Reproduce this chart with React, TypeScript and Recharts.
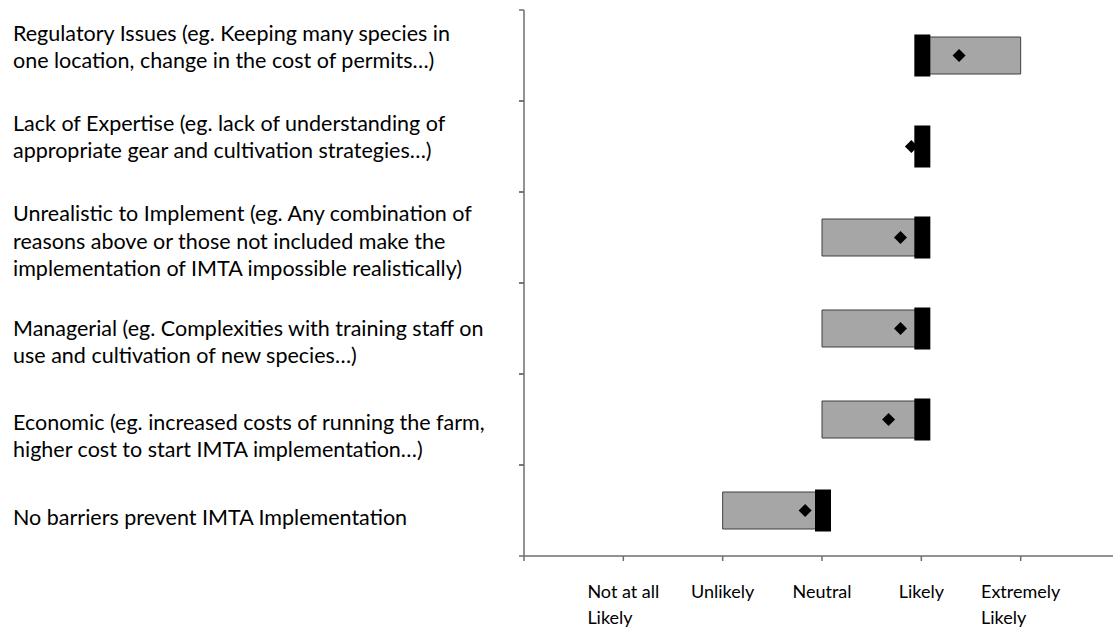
import React from 'react'
import { ComposedChart, Bar, Scatter, XAxis, YAxis } from 'recharts'

// barriers, top to bottom (line breaks as in the original labels)
const categories = [
  'Regulatory Issues (eg. Keeping many species in\none location, change in the cost of permits…)',
  'Lack of Expertise (eg. lack of understanding of\nappropriate gear and cultivation strategies…)',
  'Unrealistic to Implement (eg. Any combination of\nreasons above or those not included make the\nimplementation of IMTA impossible realistically)',
  'Managerial (eg. Complexities with training staff on\nuse and cultivation of new species…)',
  'Economic (eg. increased costs of running the farm,\nhigher cost to start IMTA implementation…)',
  'No barriers prevent IMTA Implementation',
]
const q1 = [4, 4, 3, 3, 3, 2]
const q3 = [5, 4, 4, 4, 4, 3]
const medians = [4, 4, 4, 4, 4, 3]
const means = [4.38, 3.9, 3.79, 3.79, 3.67, 2.83]

const likertTicks = [0, 1, 2, 3, 4, 5]
const likertLabels = ['', 'Not at all\nLikely', 'Unlikely', 'Neutral', 'Likely', 'Extremely\nLikely']

const data = categories.map((name, i) => ({
  name,
  box: [q1[i], q3[i]],
  median: medians[i],
  mean: means[i],
}))

const FONT = 'Lato, "Open Sans", sans-serif'
const AXIS = '#6e6e6e'
const CHART_W = 1120
const CHART_H = 630
const TOP = 10
const BOTTOM = 74
const LEFT = 524
const BAND = (CHART_H - TOP - BOTTOM) / categories.length
// small nudges of the label blocks, the source text boxes are not centred on their rows
const labelShift = [-9, -10, 3, 13, 16, 6]

let measureCtx: CanvasRenderingContext2D | null = null
function textWidth(s: string, font: string) {
  if (!measureCtx) measureCtx = document.createElement('canvas').getContext('2d')
  if (!measureCtx) return s.length * 8
  measureCtx.font = font
  return measureCtx.measureText(s).width
}

function CategoryTick(props: any) {
  const { y, payload, index } = props
  const lines = String(payload.value).split('\n')
  const lh = 27.5
  const y0 = y + (labelShift[index] || 0) - ((lines.length - 1) * lh) / 2
  return (
    <g>
      <line x1={LEFT - 5} x2={LEFT} y1={y - BAND / 2} y2={y - BAND / 2} stroke={AXIS} strokeWidth={1.5} />
      <line x1={LEFT - 5} x2={LEFT} y1={y + BAND / 2} y2={y + BAND / 2} stroke={AXIS} strokeWidth={1.5} />
      <text x={13} y={y0} fontFamily={FONT} fontSize={21.5} fill="#000" dominantBaseline="central">
        {lines.map((l, i) => (
          <tspan key={i} x={13} y={y0 + i * lh}>
            {l}
          </tspan>
        ))}
      </text>
    </g>
  )
}

function LikertTick(props: any) {
  const { x, y, index } = props
  const lines = likertLabels[index].split('\n')
  if (!lines[0]) return null
  const w = textWidth(lines[0], `18px ${FONT}`)
  const left = x - w / 2
  return (
    <text x={left} y={y + 28} fontFamily={FONT} fontSize={18} fill="#000" dominantBaseline="central">
      {lines.map((l, i) => (
        <tspan key={i} x={left} y={y + 28 + i * 25.5}>
          {l}
        </tspan>
      ))}
    </text>
  )
}

const MedianMark = (props: any) => {
  const { cx, cy } = props
  return <rect x={cx - 7} y={cy - 21} width={16} height={42} fill="#000" />
}

const MeanMark = (props: any) => {
  const { cx, cy } = props
  const r = 6.5
  return <polygon points={`${cx},${cy - r} ${cx + r},${cy} ${cx},${cy + r} ${cx - r},${cy}`} fill="#000" />
}

export default function App() {
  return (
    <div style={{ position: 'absolute', left: 0, top: 0, width: 1113, height: 630, overflow: 'hidden', background: '#fff' }}>
      <ComposedChart
        width={CHART_W}
        height={CHART_H}
        data={data}
        layout="vertical"
        margin={{ top: TOP, right: 0, bottom: 0, left: 0 }}
      >
        <XAxis
          type="number"
          domain={[0, 6]}
          ticks={likertTicks}
          interval={0}
          height={BOTTOM}
          tickSize={5}
          stroke={AXIS}
          strokeWidth={1.5}
          tick={<LikertTick />}
        />
        <YAxis
          type="category"
          dataKey="name"
          width={LEFT}
          interval={0}
          tickLine={false}
          stroke={AXIS}
          strokeWidth={1.5}
          tick={<CategoryTick />}
        />
        <Bar dataKey="box" barSize={37} fill="#a6a6a6" stroke="#3f3f3f" strokeWidth={1} isAnimationActive={false} />
        <Scatter dataKey="median" shape={<MedianMark />} isAnimationActive={false} />
        <Scatter dataKey="mean" shape={<MeanMark />} isAnimationActive={false} />
      </ComposedChart>
    </div>
  )
}
